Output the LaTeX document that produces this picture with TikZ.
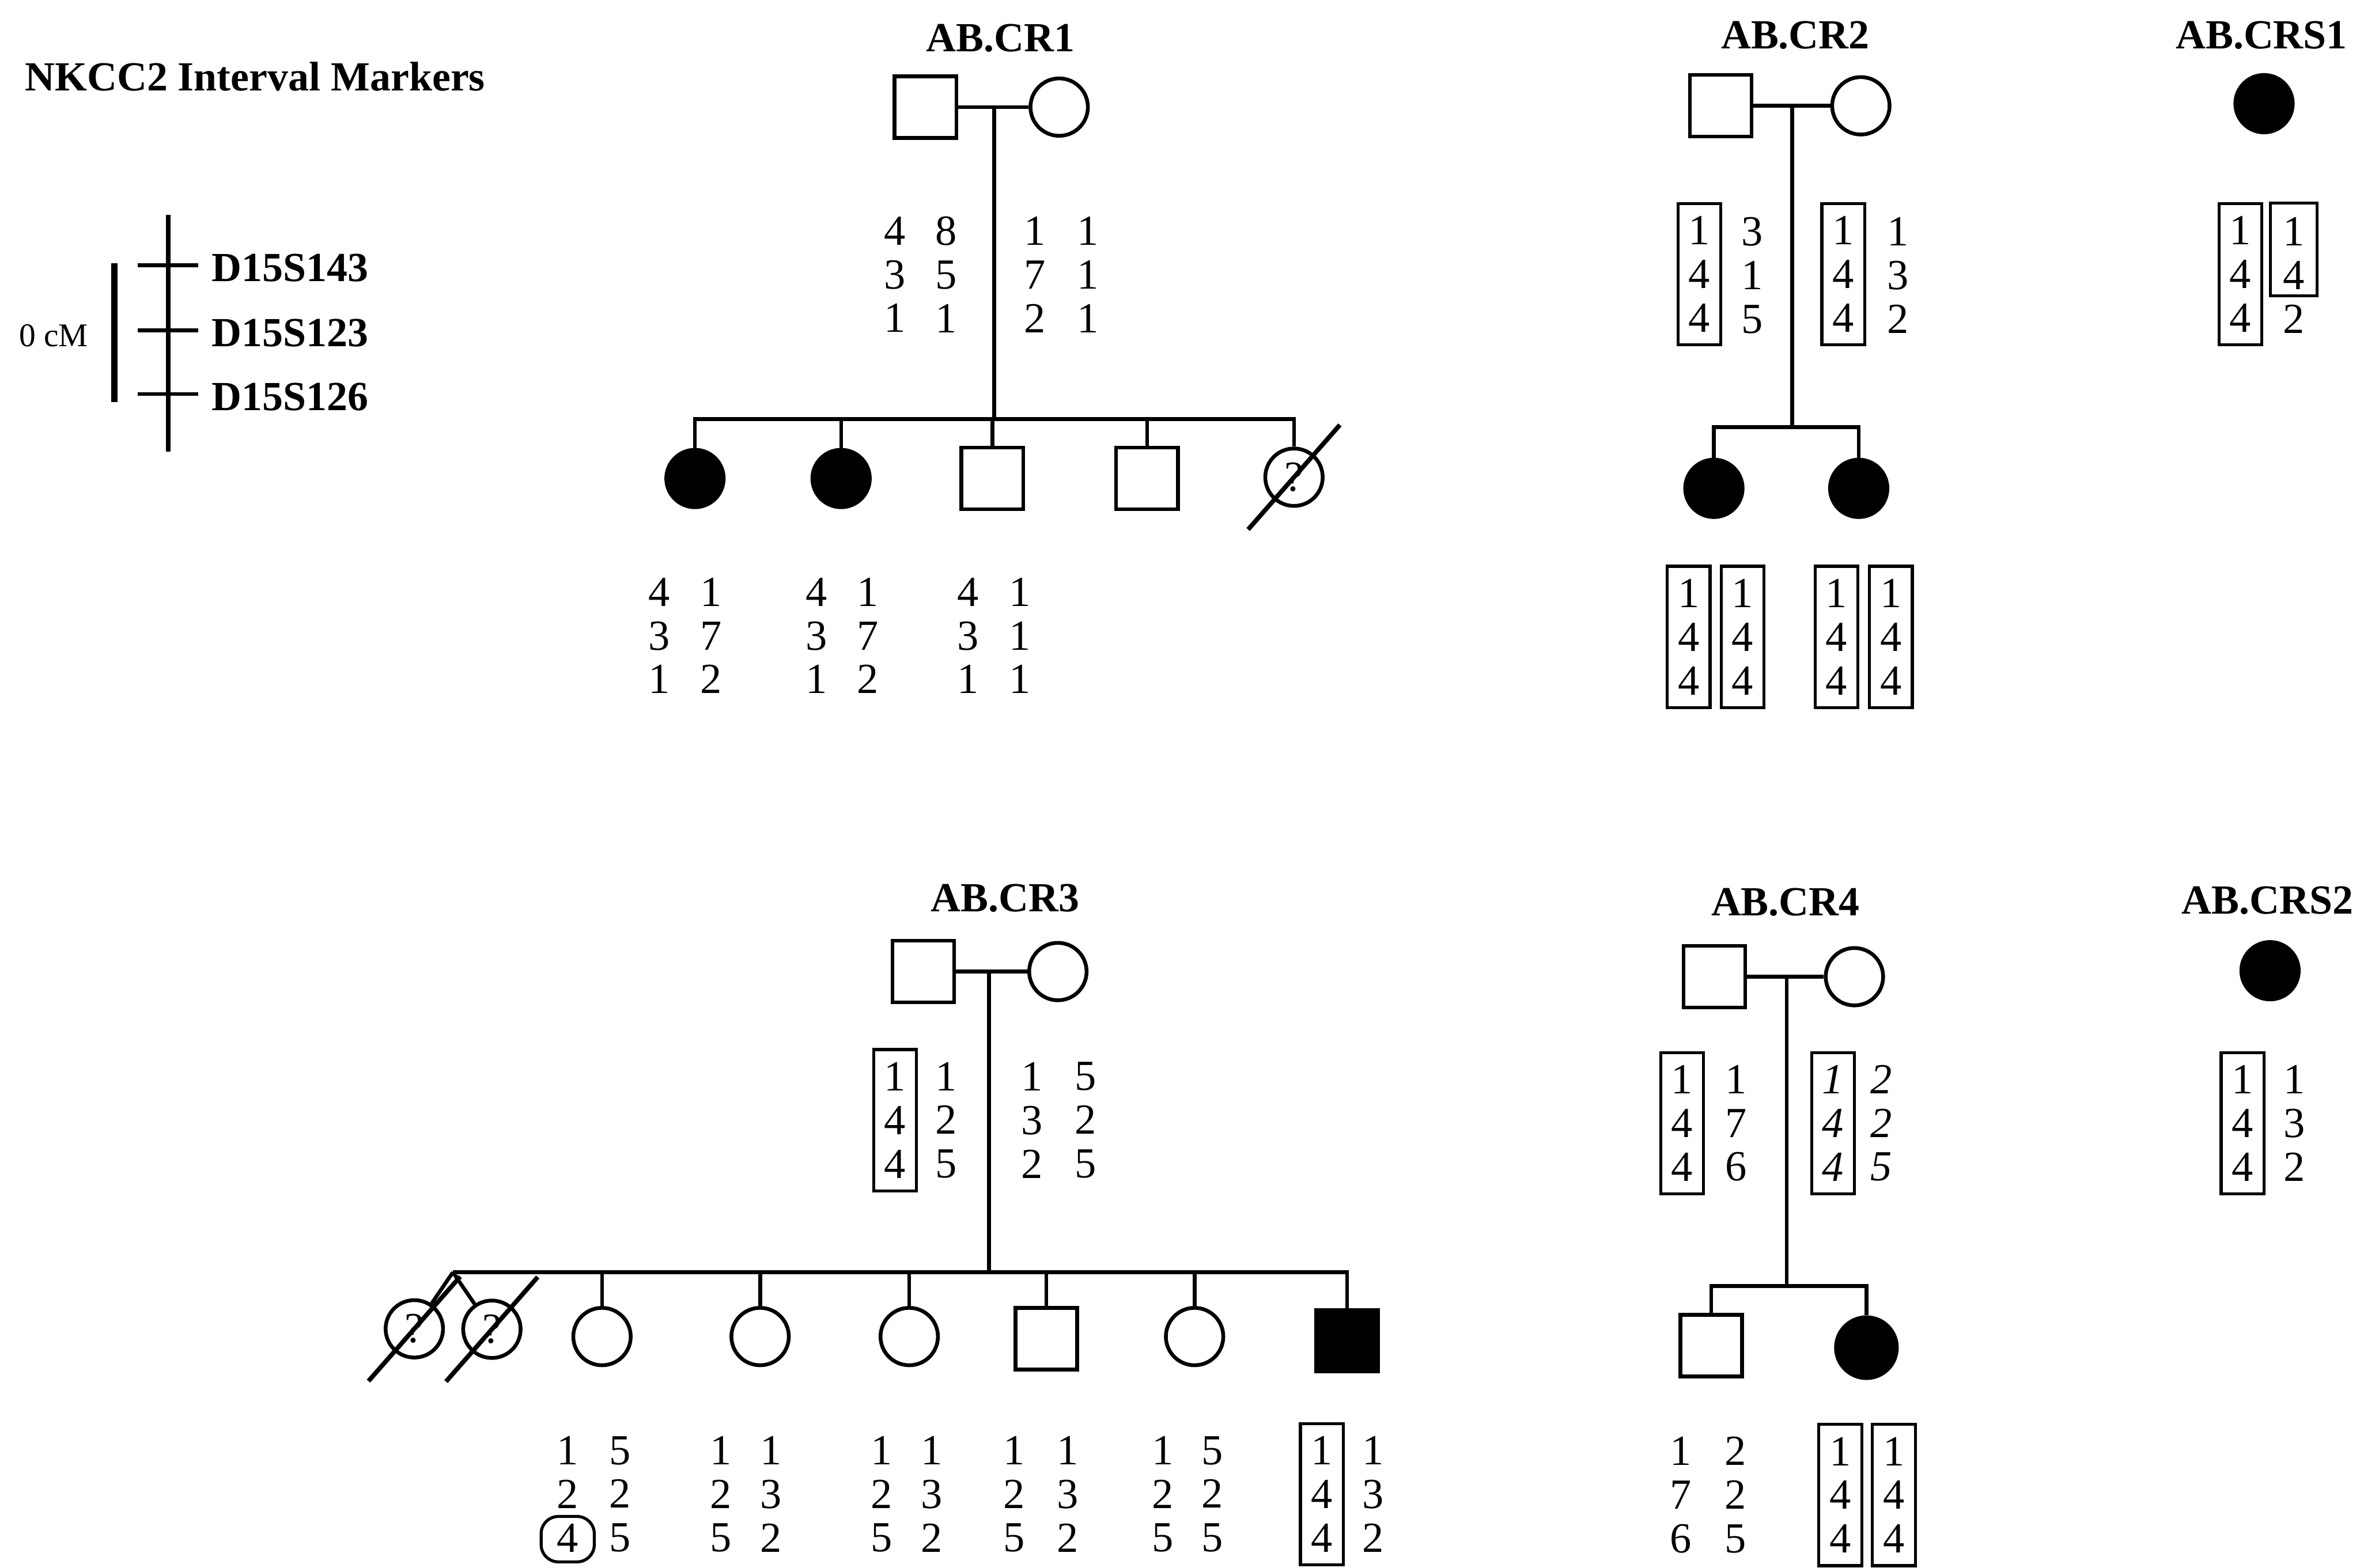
\documentclass[tikz,border=0pt]{standalone}
\usepackage{fontspec}
\setmainfont{Liberation Serif}
\usepackage{tikz}
\usetikzlibrary{positioning,calc}

\newcommand{\geno}{\fontsize{28.5}{29}\selectfont}
\newcommand{\ttlfont}{\fontsize{27.5}{30}\selectfont\bfseries}
\newcommand{\deceased}[1]{\draw[slash] ($(#1)+(-1.07,-1.22)$) -- ($(#1)+(1.07,1.22)$);}

\begin{document}
\begin{tikzpicture}[line width=2.5pt,
  male/.style={draw, rectangle, minimum size=1.44cm, inner sep=0pt},
  female/.style={draw, circle, minimum size=1.34cm, inner sep=0pt, font=\geno},
  aff/.style={fill=black},
  hap/.style={align=center, font=\geno, inner sep=0pt, minimum width=1cm, minimum height=3.3cm},
  hapbox/.style={hap, draw, line width=2pt},
  ttl/.style={font=\ttlfont, anchor=base, inner sep=0pt},
  mk/.style={font=\ttlfont, anchor=west, inner sep=0pt},
  slash/.style={line width=3pt},
  ]
  \useasboundingbox (0,0) rectangle (55.08,-36.6);

  % legend
  \node[mk, anchor=base west] (lgd) at (0.54,-2.12) {NKCC2 Interval Markers};
  \draw[line width=3pt] (3.93,-5.02) -- (3.93,-10.54);
  \foreach \y/\mname [count=\i] in {6.19/D15S143, 7.71/D15S123, 9.20/D15S126} {
    \draw (3.21,-\y) -- (4.62,-\y);
    \node[mk] (mk\i) at (4.9,{-\y-0.06}) {\mname};
  }
  \draw[line width=4.5pt] (2.67,-6.15) -- (2.67,-9.38);
  \node[anchor=west, inner sep=0pt, font=\fontsize{22}{24}\selectfont] (cm) at (0.4,-7.83) {0 cM};

  % AB.CR1
  \node[ttl] (t1) at (23.35,-1.2) {AB.CR1};
  \node[male] (f1) at (21.6,-2.5) {};
  \node[female] (m1) at (24.72,-2.5) {};
  \draw (f1) -- (m1);
  \coordinate (d1) at (23.2,-2.5);
  \coordinate (s1) at (23.2,-9.78);
  \draw (d1) -- (s1);
  \node[female, aff] (k1a) at (16.22,-11.17) {};
  \node[female, aff] (k1b) at (19.63,-11.17) {};
  \node[male] (k1c) at (23.16,-11.17) {};
  \node[male] (k1d) at (26.77,-11.17) {};
  \node[female] (k1e) at (30.2,-11.14) {?};
  \draw (k1a.north) |- (s1) -| (k1e.north);
  \foreach \k in {k1b,k1c,k1d} \draw (\k.north) -- (\k.north |- s1);
  \deceased{k1e}
  \node[hap] (g1a) at (20.88,-6.41) {4\\3\\1};
  \node[hap] (g1b) at (22.08,-6.41) {8\\5\\1};
  \node[hap] (g1c) at (24.15,-6.41) {1\\7\\2};
  \node[hap] (g1d) at (25.39,-6.41) {1\\1\\1};
  \node[hap] (h1a) at (15.38,-14.84) {4\\3\\1};
  \node[hap] (h1b) at (16.59,-14.84) {1\\7\\2};
  \node[hap] (h1c) at (19.05,-14.84) {4\\3\\1};
  \node[hap] (h1d) at (20.25,-14.84) {1\\7\\2};
  \node[hap] (h1e) at (22.59,-14.84) {4\\3\\1};
  \node[hap] (h1f) at (23.80,-14.84) {1\\1\\1};

  % AB.CR2
  \node[ttl] (t2) at (41.9,-1.14) {AB.CR2};
  \node[male] (f2) at (40.16,-2.47) {};
  \node[female] (m2) at (43.43,-2.47) {};
  \draw (f2) -- (m2);
  \coordinate (d2) at (41.83,-2.47);
  \coordinate (s2) at (41.83,-9.97);
  \draw (d2) -- (s2);
  \node[female, aff] (k2a) at (40.0,-11.4) {};
  \node[female, aff] (k2b) at (43.38,-11.4) {};
  \draw (k2a.north) |- (s2) -| (k2b.north);
  \node[hapbox] (g2a) at (39.66,-6.40) {1\\4\\4};
  \node[hap] (g2b) at (40.90,-6.43) {3\\1\\5};
  \node[hapbox] (g2c) at (43.02,-6.40) {1\\4\\4};
  \node[hap] (g2d) at (44.30,-6.43) {1\\3\\2};
  \node[hapbox] (h2a) at (39.41,-14.87) {1\\4\\4};
  \node[hapbox] (h2b) at (40.67,-14.87) {1\\4\\4};
  \node[hapbox] (h2c) at (42.86,-14.87) {1\\4\\4};
  \node[hapbox] (h2d) at (44.13,-14.87) {1\\4\\4};

  % AB.CRS1
  \node[ttl] (t5) at (52.78,-1.14) {AB.CRS1};
  \node[female, aff] (p5) at (52.84,-2.42) {};
  \node[hapbox] (g5a) at (52.29,-6.40) {1\\4\\4};
  \node[hap] (g5b) at (53.53,-6.43) {1\\4\\2};
  \draw[line width=2pt] (g5b.north west) rectangle ($(g5b.south east)!0.36!(g5b.north east)$);

  % AB.CR3
  \node[ttl] (t3) at (23.46,-21.28) {AB.CR3};
  \node[male] (f3) at (21.55,-22.68) {};
  \node[female] (m3) at (24.69,-22.68) {};
  \draw (f3) -- (m3);
  \coordinate (d3) at (23.08,-22.68);
  \coordinate (s3) at (23.08,-29.7);
  \coordinate (tw3) at (10.57,-29.7);
  \draw (d3) -- (s3);
  \node[female] (k3a) at (9.67,-31.02) {?};
  \node[female] (k3b) at (11.48,-31.03) {?};
  \node[female] (k3c) at (14.05,-31.2) {};
  \node[female] (k3d) at (17.74,-31.2) {};
  \node[female] (k3e) at (21.22,-31.2) {};
  \node[male] (k3f) at (24.42,-31.25) {};
  \node[female] (k3g) at (27.88,-31.2) {};
  \node[male, aff] (k3h) at (31.44,-31.3) {};
  \draw (tw3) -- (s3) -| (k3h.north);
  \draw (tw3) -- (k3a);
  \draw (tw3) -- (k3b);
  \foreach \k in {k3c,k3d,k3e,k3f,k3g} \draw (\k.north) -- (\k.north |- s3);
  \deceased{k3a}
  \deceased{k3b}
  \node[hapbox] (g3a) at (20.89,-26.15) {1\\4\\4};
  \node[hap] (g3b) at (22.08,-26.15) {1\\2\\5};
  \node[hap] (g3c) at (24.08,-26.15) {1\\3\\2};
  \node[hap] (g3d) at (25.33,-26.15) {5\\2\\5};
  \node[hap] (h3a) at (13.25,-34.88) {1\\2\\4};
  \node[hap] (h3b) at (14.47,-34.88) {5\\2\\5};
  \node[hap] (h3c) at (16.83,-34.88) {1\\2\\5};
  \node[hap] (h3d) at (18.00,-34.88) {1\\3\\2};
  \node[hap] (h3e) at (20.58,-34.88) {1\\2\\5};
  \node[hap] (h3f) at (21.75,-34.88) {1\\3\\2};
  \node[hap] (h3g) at (23.67,-34.88) {1\\2\\5};
  \node[hap] (h3h) at (24.92,-34.88) {1\\3\\2};
  \node[hap] (h3i) at (27.14,-34.88) {1\\2\\5};
  \node[hap] (h3j) at (28.30,-34.88) {5\\2\\5};
  \node[hapbox] (h3k) at (30.85,-34.88) {1\\4\\4};
  \node[hap] (h3l) at (32.05,-34.88) {1\\3\\2};
  \draw[line width=2pt, rounded corners=0.4cm] ($(h3a)+(-0.62,-1.58)$) rectangle ($(h3a)+(0.62,-0.52)$);

  % AB.CR4
  \node[ttl] (t4) at (41.67,-21.38) {AB.CR4};
  \node[male] (f4) at (40.01,-22.8) {};
  \node[female] (m4) at (43.28,-22.8) {};
  \draw (f4) -- (m4);
  \coordinate (d4) at (41.70,-22.8);
  \coordinate (s4) at (41.70,-30.02);
  \draw (d4) -- (s4);
  \node[male] (k4a) at (39.94,-31.41) {};
  \node[female, aff, minimum size=1.42cm] (k4b) at (43.56,-31.46) {};
  \draw (k4a.north) |- (s4) -| (k4b.north);
  \node[hapbox] (g4a) at (39.26,-26.22) {1\\4\\4};
  \node[hap] (g4b) at (40.52,-26.22) {1\\7\\6};
  \node[hapbox, font=\geno\itshape] (g4c) at (42.78,-26.22) {1\\4\\4};
  \node[hap, font=\geno\itshape] (g4d) at (43.91,-26.22) {2\\2\\5};
  \node[hap] (h4a) at (39.23,-34.9) {1\\7\\6};
  \node[hap] (h4b) at (40.50,-34.9) {2\\2\\5};
  \node[hapbox] (h4c) at (42.95,-34.9) {1\\4\\4};
  \node[hapbox] (h4d) at (44.20,-34.9) {1\\4\\4};

  % AB.CRS2
  \node[ttl] (t6) at (52.92,-21.33) {AB.CRS2};
  \node[female, aff] (p6) at (52.98,-22.66) {};
  \node[hapbox] (g6a) at (52.34,-26.22) {1\\4\\4};
  \node[hap] (g6b) at (53.55,-26.22) {1\\3\\2};
\end{tikzpicture}
\end{document}
